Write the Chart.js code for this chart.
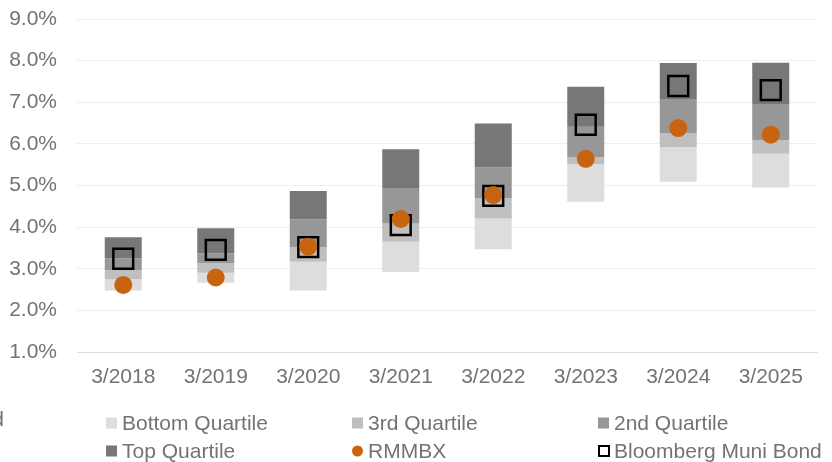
<!DOCTYPE html>
<html>
<head>
<meta charset="utf-8">
<script src="https://cdn.jsdelivr.net/npm/chart.js@4/dist/chart.umd.min.js"></script>
<style>
  html, body { margin: 0; padding: 0; background: #ffffff; }
  #wrap { width: 832px; height: 462px; position: relative; }
</style>
</head>
<body>
<div id="wrap"><canvas id="c" width="832" height="462"></canvas></div>
<script>
// ---- data (percent) ----
const categories = ['3/2018', '3/2019', '3/2020', '3/2021', '3/2022', '3/2023', '3/2024', '3/2025'];
const minimum   = [2.48, 2.665, 2.48, 2.92, 3.47, 4.61, 5.09, 4.95];
const pct25     = [2.75, 2.905, 3.17, 3.65, 4.21, 5.51, 5.925, 5.76];
const median    = [2.97, 3.13, 3.52, 4.09, 4.70, 5.68, 6.26, 6.09];
const pct75     = [3.25, 3.37, 4.19, 4.94, 5.44, 6.41, 7.08, 6.96];
const maximum   = [3.755, 3.97, 4.87, 5.87, 6.49, 7.37, 7.94, 7.95];
const rmmbx     = [2.61, 2.79, 3.53, 4.195, 4.77, 5.64, 6.38, 6.22];
const bloomberg = [3.24, 3.455, 3.52, 4.05, 4.75, 6.46, 7.39, 7.29];
const yTicks    = [1, 2, 3, 4, 5, 6, 7, 8, 9];

const seriesNames = ['Bottom Quartile', '3rd Quartile', '2nd Quartile', 'Top Quartile', 'RMMBX', 'Bloomberg Muni Bond'];

const FONT = '"Liberation Sans", Arial, sans-serif';
const TEXT = '#737373';
const C_BOTTOM = '#DDDDDD', C_THIRD = '#BFBFBF', C_SECOND = '#979797', C_TOP = '#777777';
const C_ORANGE = '#C8640F';

const range = (lo, hi) => lo.map((v, i) => [v, hi[i]]);

const barCommon = { type: 'bar', grouped: false, barPercentage: 0.4, categoryPercentage: 1.0, borderWidth: 0 };

const datasets = [
  { type: 'line', label: seriesNames[4], data: rmmbx, showLine: false, order: 0,
    pointStyle: 'circle', pointRadius: 9, pointBackgroundColor: C_ORANGE, pointBorderColor: C_ORANGE, pointBorderWidth: 0 },
  { type: 'line', label: seriesNames[5], data: bloomberg, showLine: false, order: 1,
    pointStyle: 'rect', pointRadius: 14, pointBackgroundColor: 'rgba(0,0,0,0)', pointBorderColor: '#000000', pointBorderWidth: 2.5 },
  Object.assign({}, barCommon, { label: seriesNames[0], data: range(minimum, pct25), backgroundColor: C_BOTTOM, order: 5 }),
  Object.assign({}, barCommon, { label: seriesNames[1], data: range(pct25, median), backgroundColor: C_THIRD, order: 4 }),
  Object.assign({}, barCommon, { label: seriesNames[2], data: range(median, pct75), backgroundColor: C_SECOND, order: 3 }),
  Object.assign({}, barCommon, { label: seriesNames[3], data: range(pct75, maximum), backgroundColor: C_TOP, order: 2 })
];

// custom legend laid out in three columns, two rows (as in the reference)
const legendPlugin = {
  id: 'gridLegend',
  afterDraw(chart) {
    const ctx = chart.ctx;
    const colX = [106, 352, 598];
    const rowY = [423, 451];
    const items = [
      { ds: 2, kind: 'box' }, { ds: 3, kind: 'box' }, { ds: 4, kind: 'box' },
      { ds: 5, kind: 'box' }, { ds: 0, kind: 'dot' }, { ds: 1, kind: 'hollow' }
    ];
    ctx.save();
    ctx.font = '21px ' + FONT;
    ctx.textBaseline = 'middle';
    ctx.textAlign = 'left';
    items.forEach((it, i) => {
      const d = chart.data.datasets[it.ds];
      const x = colX[i % 3], y = rowY[Math.floor(i / 3)];
      if (it.kind === 'box') {
        ctx.fillStyle = d.backgroundColor;
        ctx.fillRect(x, y - 5.5, 11, 11);
      } else if (it.kind === 'dot') {
        ctx.fillStyle = d.pointBackgroundColor;
        ctx.beginPath(); ctx.arc(x + 5.5, y, 5.5, 0, Math.PI * 2); ctx.fill();
      } else {
        ctx.strokeStyle = d.pointBorderColor; ctx.lineWidth = 2;
        ctx.strokeRect(x + 1, y - 5, 10, 10);
      }
      ctx.fillStyle = TEXT;
      ctx.fillText(d.label, x + 16, y + 1);
    });
    // clipped fragment of legend text at the left edge (as in the reference)
    ctx.textAlign = 'right';
    ctx.fillText('d', 4, rowY[0] - 3);
    ctx.restore();
  }
};

new Chart(document.getElementById('c'), {
  data: { labels: categories, datasets },
  options: {
    responsive: false,
    animation: false,
    layout: { autoPadding: false, padding: { left: 0, right: 15, top: 19, bottom: 70 } },
    plugins: { legend: { display: false }, tooltip: { enabled: false } },
    scales: {
      x: {
        type: 'category',
        grid: { display: false, drawTicks: false },
        border: { display: true, color: '#D9DEE6', width: 1 },
        ticks: { color: TEXT, font: { family: FONT, size: 21 }, padding: 13, maxRotation: 0 },
        afterFit(s) { s.height = 40; s.paddingLeft = 0; s.paddingRight = 0; }
      },
      y: {
        min: 1, max: 9,
        afterBuildTicks(s) { s.ticks = yTicks.map(v => ({ value: v })); },
        grid: { color: (c) => c.tick && c.tick.value === 1 ? 'rgba(0,0,0,0)' : '#EEEEEE', lineWidth: 1, drawTicks: false },
        border: { display: false },
        ticks: { color: TEXT, font: { family: FONT, size: 21 }, padding: 20, callback: (v) => Number(v).toFixed(1) + '%' },
        afterFit(s) { s.width = 77; s.paddingTop = 0; s.paddingBottom = 0; }
      }
    }
  },
  plugins: [legendPlugin]
});
</script>
</body>
</html>
